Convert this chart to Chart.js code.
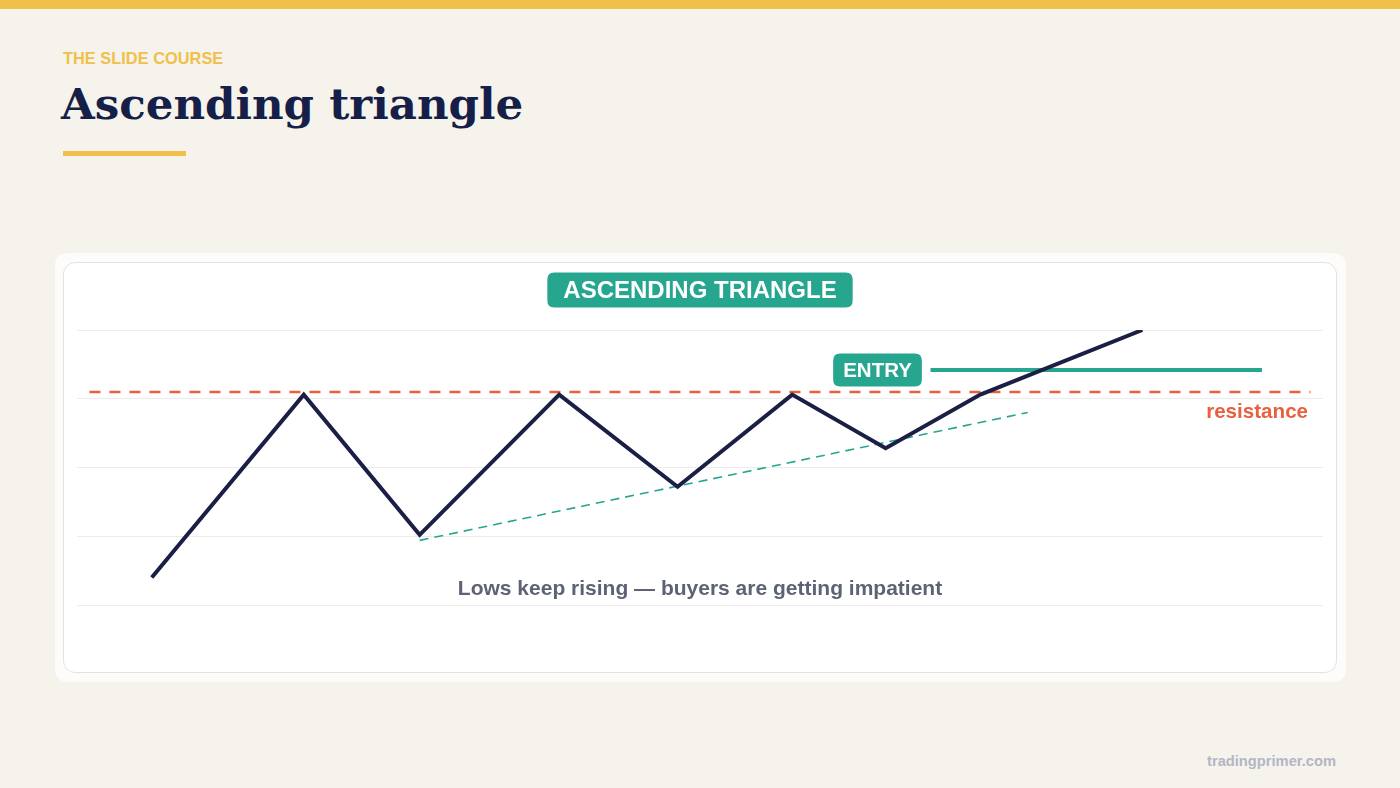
<!DOCTYPE html>
<html>
<head>
<meta charset="utf-8">
<script src="https://cdn.jsdelivr.net/npm/chart.js@4/dist/chart.umd.min.js"></script>
<style>
  html, body { margin: 0; padding: 0; }
  body { width: 1400px; height: 788px; background: #f6f3ec; position: relative; overflow: hidden; font-family: "Liberation Sans", Arial, sans-serif; }
  .topbar { position: absolute; left: 0; top: 0; width: 1400px; height: 9px; background: #f0c04a; }
  .kicker { position: absolute; left: 63px; top: 49px; font-size: 16.4px; font-weight: bold; color: #f0c04a; }
  .title { position: absolute; left: 61px; top: 78px; font-family: "DejaVu Serif", serif; font-weight: bold; font-size: 43.5px; color: #151f48; margin: 0; }
  .rule { position: absolute; left: 63px; top: 151px; width: 123px; height: 5px; background: #f0c04a; }
  .outer { position: absolute; left: 55px; top: 253px; width: 1291px; height: 429px; background: #fdfcfa; border-radius: 12px; }
  .inner { position: absolute; left: 63px; top: 262px; width: 1272px; height: 409px; background: #ffffff; border: 1px solid #e2e2e2; border-radius: 12px; }
  .chartbox { position: absolute; left: 64px; top: 263px; width: 1272px; height: 409px; }
  .footer { position: absolute; right: 64px; top: 753px; font-size: 14.7px; font-weight: bold; color: #b3b6c6; }
</style>
</head>
<body>
<div class="topbar"></div>
<div class="kicker">THE SLIDE COURSE</div>
<h1 class="title">Ascending triangle</h1>
<div class="rule"></div>
<div class="outer"></div>
<div class="inner"></div>
<div class="chartbox"><canvas id="chart"></canvas></div>
<div class="footer">tradingprimer.com</div>

<script>
// price path (zig-zag with rising lows)
const priceX = [6, 18.2, 27.5, 38.7, 48.2, 57.4, 64.9, 72.5, 85.5];
const priceY = [10, 76.5, 25.5, 76.5, 43, 76.5, 57, 76.5, 100];

// flat resistance
const resistanceX = [1, 99];
const resistanceY = [77.5, 77.5];

// rising support line under the lows
const supportX = [27.5, 76.3];
const supportY = [23.5, 70];

// entry level
const entryX = [68.5, 95.1];
const entryY = [85.5, 85.5];

const yTicks = [0, 25, 50, 75, 100];

const NAVY = '#1b1f45';
const TEAL = '#26a68f';
const ORANGE = '#e8603e';

function pts(xs, ys) {
    return xs.map((x, i) => ({ x: x, y: ys[i] }));
}

function roundRect(ctx, x, y, w, h, r) {
    ctx.beginPath();
    ctx.moveTo(x + r, y);
    ctx.lineTo(x + w - r, y);
    ctx.quadraticCurveTo(x + w, y, x + w, y + r);
    ctx.lineTo(x + w, y + h - r);
    ctx.quadraticCurveTo(x + w, y + h, x + w - r, y + h);
    ctx.lineTo(x + r, y + h);
    ctx.quadraticCurveTo(x, y + h, x, y + h - r);
    ctx.lineTo(x, y + r);
    ctx.quadraticCurveTo(x, y, x + r, y);
    ctx.closePath();
}

function badge(ctx, text, cx, cy, font, padX, h) {
    ctx.font = font;
    const w = ctx.measureText(text).width + padX * 2;
    ctx.fillStyle = TEAL;
    roundRect(ctx, cx - w / 2, cy - h / 2, w, h, 7);
    ctx.fill();
    ctx.fillStyle = '#ffffff';
    ctx.textAlign = 'center';
    ctx.textBaseline = 'middle';
    ctx.fillText(text, cx, cy + 1);
}

// labels on top of the chart
const annotations = {
    id: 'annotations',
    afterDatasetsDraw(chart) {
        const ctx = chart.ctx;
        const xs = chart.scales.x, ys = chart.scales.y;
        const midX = (chart.chartArea.left + chart.chartArea.right) / 2;
        ctx.save();

        badge(ctx, 'ASCENDING TRIANGLE', midX, 27,
            'bold 24px "Liberation Sans", Arial, sans-serif', 16, 35);

        badge(ctx, 'ENTRY', xs.getPixelForValue(entryX[0]) - 53, ys.getPixelForValue(entryY[0]),
            'bold 20.5px "Liberation Sans", Arial, sans-serif', 10, 33);

        ctx.font = 'bold 20.6px "Liberation Sans", Arial, sans-serif';
        ctx.fillStyle = ORANGE;
        ctx.textAlign = 'right';
        ctx.textBaseline = 'middle';
        ctx.fillText('resistance', xs.getPixelForValue(98.8), ys.getPixelForValue(resistanceY[0]) + 20);

        ctx.font = 'bold 21px "Liberation Sans", Arial, sans-serif';
        ctx.fillStyle = '#5d6275';
        ctx.textAlign = 'center';
        ctx.fillText('Lows keep rising \u2014 buyers are getting impatient', midX, ys.getPixelForValue(5.8));

        ctx.restore();
    }
};

new Chart(document.getElementById('chart'), {
    type: 'line',
    data: {
        datasets: [
            {
                label: 'Resistance',
                data: pts(resistanceX, resistanceY),
                borderColor: ORANGE,
                borderWidth: 2.5,
                borderDash: [11, 9],
                pointRadius: 0,
                order: 3
            },
            {
                label: 'Support',
                data: pts(supportX, supportY),
                borderColor: TEAL,
                borderWidth: 1.6,
                borderDash: [9, 6],
                pointRadius: 0,
                order: 2
            },
            {
                label: 'Entry',
                data: pts(entryX, entryY),
                borderColor: TEAL,
                borderWidth: 4,
                pointRadius: 0,
                order: 1
            },
            {
                label: 'Price',
                data: pts(priceX, priceY),
                borderColor: NAVY,
                borderWidth: 4,
                pointRadius: 0,
                tension: 0,
                order: 0
            }
        ]
    },
    options: {
        responsive: true,
        maintainAspectRatio: false,
        animation: false,
        layout: { padding: { left: 13, right: 13, top: 67, bottom: 67 } },
        plugins: {
            legend: { display: false },
            tooltip: { enabled: false }
        },
        scales: {
            x: {
                type: 'linear',
                min: 0,
                max: 100,
                display: false
            },
            y: {
                min: 0,
                max: 100,
                afterBuildTicks: axis => { axis.ticks = yTicks.map(v => ({ value: v })); },
                border: { display: false },
                grid: { color: '#ececec', lineWidth: 1, drawTicks: false },
                ticks: { display: false }
            }
        }
    },
    plugins: [annotations]
});
</script>
</body>
</html>
